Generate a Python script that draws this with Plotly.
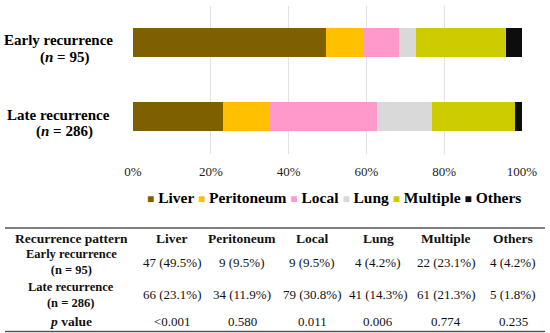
import plotly.graph_objects as go

# ---------------- data ----------------
categories = ["Liver", "Peritoneum", "Local", "Lung", "Multiple", "Others"]
groups = ["Early recurrence", "Late recurrence"]
group_n = ["95", "286"]
early_pct = [49.5, 9.5, 9.5, 4.2, 23.2, 4.2]      # bar shares
late_pct = [23.1, 11.9, 27.6, 14.3, 21.3, 1.7]
early_table = ["47 (49.5%)", "9 (9.5%)", "9 (9.5%)", "4 (4.2%)", "22 (23.1%)", "4 (4.2%)"]
late_table = ["66 (23.1%)", "34 (11.9%)", "79 (30.8%)", "41 (14.3%)", "61 (21.3%)", "5 (1.8%)"]
p_values = ["<0.001", "0.580", "0.011", "0.006", "0.774", "0.235"]
x_ticks = [0, 20, 40, 60, 80, 100]
x_tick_labels = ["0%", "20%", "40%", "60%", "80%", "100%"]
colors = ["#7F6000", "#FFC000", "#FF99CC", "#D9D9D9", "#CCCC00", "#0D0D0D"]

# ---------------- layout helpers (pixel -> paper) ----------------
W, H = 550, 333
L, R, T, B = 133, 522, 5.5, 153.5
FONT = "Liberation Serif"


def fx(px):
    return (px - L) / (R - L)


def fy(py):
    return (H - py) / H


def txt(text, px, py, font, xanchor="center"):
    return dict(text=text, x=fx(px), y=fy(py), xref="paper", yref="paper",
                showarrow=False, xanchor=xanchor, yanchor="middle", align="center", font=font)


fig = go.Figure()
for i, cat in enumerate(categories):
    fig.add_trace(go.Bar(
        y=groups, x=[early_pct[i], late_pct[i]], name=cat, orientation="h",
        marker=dict(color=colors[i], line=dict(width=0)), showlegend=False,
    ))

ann = []
LF = dict(family=FONT, size=15, color="#000")
label_y = [(40, 57), (115, 132)]
for g, n, (y1, y2) in zip(groups, group_n, label_y):
    ann.append(txt(f"<b>{g}</b>", 58, y1, LF))
    ann.append(txt(f"<b>(<i>n</i> = {n})</b>", 64, y2, LF))

# legend as one line of coloured squares + names
leg = " ".join(f'<span style="color:{c};font-size:12px">■</span> {n}' for n, c in zip(categories, colors))
ann.append(txt(f"<b>{leg}</b>", 333.5, 198, dict(family=FONT, size=15.5, color="#000")))

# table
col_x = [71, 172, 242, 312, 378, 446, 513]
TF = dict(family=FONT, size=13, color="#111")
HF = dict(family=FONT, size=13.5, color="#111")
RF = dict(family=FONT, size=12.5, color="#111")
header = ["Recurrence pattern"] + categories
for cx, h in zip(col_x, header):
    ann.append(txt(f"<b>{h}</b>", cx, 238.5, HF))
rows = [(groups[0], group_n[0], early_table, 262),
        (groups[1], group_n[1], late_table, 294.5)]
for g, n, vals, yc in rows:
    ann.append(txt(f"<b>{g}</b><br><b>(n = {n})</b>", col_x[0], yc, RF))
    for cx, v in zip(col_x[1:], vals):
        ann.append(txt(v, cx, yc, TF))
ann.append(txt("<b><i>p</i> value</b>", col_x[0], 321, HF))
for cx, v in zip(col_x[1:], p_values):
    ann.append(txt(v, cx, 321, TF))

shapes = [
    dict(type="line", xref="paper", yref="paper", x0=fx(5), x1=fx(545), y0=fy(228), y1=fy(228),
         line=dict(color="#555", width=1.5)),
    dict(type="line", xref="paper", yref="paper", x0=fx(5), x1=fx(545), y0=fy(331.5), y1=fy(331.5),
         line=dict(color="#555", width=1.5)),
]

fig.update_layout(
    width=W, height=H, barmode="stack", bargap=0.61,
    margin=dict(l=L, r=W - R, t=0, b=0),
    paper_bgcolor="white", plot_bgcolor="white",
    xaxis=dict(range=[0, 100], tickmode="array", tickvals=x_ticks, ticktext=x_tick_labels,
               showgrid=True, gridcolor="#E3E3E3", gridwidth=1, zeroline=False, showline=False,
               ticks="outside", ticklen=6, tickcolor="rgba(0,0,0,0)",
               tickfont=dict(family=FONT, size=13, color="#222")),
    yaxis=dict(domain=[fy(B), fy(T)], range=[1.5, -0.5], showticklabels=False,
               showgrid=False, zeroline=False, showline=False),
    annotations=ann, shapes=shapes, showlegend=False,
)

fig.write_html("out.html", config={"displayModeBar": False},
               post_script="document.body.style.margin='0';")
